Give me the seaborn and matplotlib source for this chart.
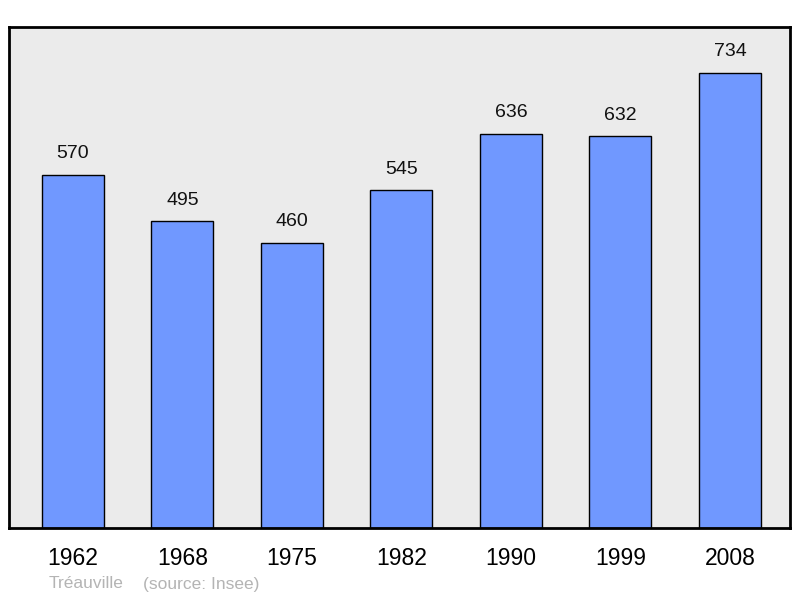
import matplotlib
matplotlib.use('Agg')
import pandas as pd
import seaborn as sns
import matplotlib.pyplot as plt

years = ['1962', '1968', '1975', '1982', '1990', '1999', '2008']
population = [570, 495, 460, 545, 636, 632, 734]

df = pd.DataFrame({'year': years, 'pop': population})

sns.set_style('white')
plt.rcParams['font.family'] = ['Liberation Sans', 'DejaVu Sans']

fig = plt.figure(figsize=(8, 5.98), dpi=100)
ax = fig.add_axes([9/800, 70/598, 781/800, 501/598])
ax.set_facecolor('#ebebeb')

sns.barplot(data=df, x='year', y='pop', color='#7098ff', saturation=1,
            width=0.566, edgecolor='black', linewidth=1, ax=ax)

for i, v in enumerate(population):
    ax.text(i, v + 21/0.62, str(v), ha='center', va='center', fontsize=14, color='#111111')

ax.set_xlim(-0.584, 6.548)
ax.set_ylim(0, 808)
ax.set_yticks([])
ax.set_xlabel('')
ax.set_ylabel('')
ax.tick_params(axis='x', length=0, pad=14, labelsize=16.5, labelcolor='black')
for s in ax.spines.values():
    s.set_visible(True)
    s.set_color('black')
    s.set_linewidth(2)

fig.text(49/800, 1 - 584/598, 'Tréauville', color='#b4b4b4', fontsize=12.5, va='center', ha='left')
fig.text(143/800, 1 - 584/598, '(source: Insee)', color='#b4b4b4', fontsize=12.5, va='center', ha='left')

fig.savefig('out.png', dpi=100)
